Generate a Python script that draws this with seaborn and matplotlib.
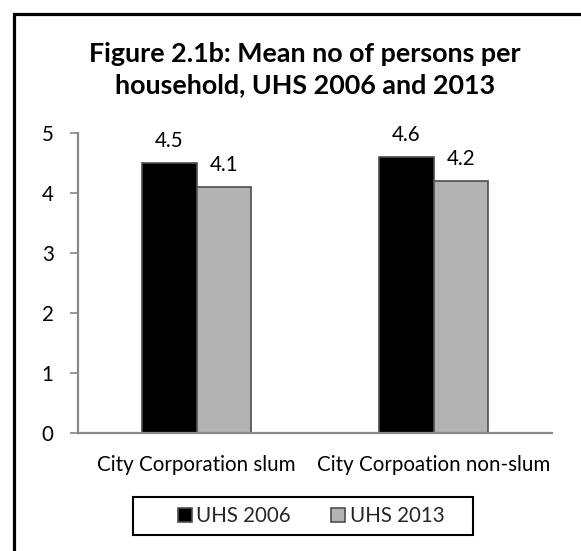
import matplotlib
matplotlib.use("Agg")
import matplotlib.pyplot as plt
import pandas as pd
import seaborn as sns

# data
categories = ["City Corporation slum", "City Corpoation non-slum"]
years = ["UHS 2006", "UHS 2013"]
uhs_2006 = [4.5, 4.6]
uhs_2013 = [4.1, 4.2]
y_ticks = [0, 1, 2, 3, 4, 5]

df = pd.DataFrame({
    "area": categories * 2,
    "survey": [years[0]] * 2 + [years[1]] * 2,
    "persons": uhs_2006 + uhs_2013,
})

W, H = 581, 551

sns.set_theme(style="white")
plt.rcParams["font.family"] = ["Lato", "DejaVu Sans"]

fig = plt.figure(figsize=(W / 100, H / 100), dpi=100)
ax = fig.add_axes([78 / W, 1 - 433 / H, 474 / W, 300 / H])

sns.barplot(
    data=df, x="area", y="persons", hue="survey",
    palette=["#000000", "#b3b3b3"], width=0.46, gap=0,
    edgecolor="#4d4d4d", linewidth=1.2, saturation=1, ax=ax,
)
ax.get_legend().remove()

ax.set_ylim(0, 5)
ax.set_xlim(-0.5, 1.5)
ax.set_yticks(y_ticks)
ax.set_xlabel("")
ax.set_ylabel("")
for side in ["top", "right"]:
    ax.spines[side].set_visible(False)
for side in ["left", "bottom"]:
    ax.spines[side].set_color("#898989")
    ax.spines[side].set_linewidth(1.6)

# size the body font so the category label is as wide as in the reference
fs = 14
ax.tick_params(axis="x", labelsize=fs)
fig.canvas.draw()
rend = fig.canvas.get_renderer()
w = ax.get_xticklabels()[0].get_window_extent(rend).width
fs = fs * 199 / w
fpx = fs * 100 / 72

ax.tick_params(axis="y", left=True, length=5.5, width=1.2, color="#898989",
               labelsize=fs, pad=12, labelcolor="#000000")
ax.tick_params(axis="x", bottom=False, length=0, labelsize=fs, pad=16,
               labelcolor="#000000")

for cont in ax.containers:
    ax.bar_label(cont, fmt="%.1f", padding=8.5, fontsize=fs, color="#000000")

# legend (frame drawn separately, like the Excel box)
handles, labels = ax.get_legend_handles_labels()
leg = fig.legend(
    handles, labels, loc="center left", bbox_to_anchor=(178 / W, 1 - 516 / H),
    ncol=2, frameon=False, fontsize=fs, handlelength=13.5 / fpx,
    handleheight=13.5 / fpx, handletextpad=5 / fpx, columnspacing=40 / fpx,
    borderpad=0, borderaxespad=0,
)
fig.patches.append(plt.Rectangle((133 / W, 1 - 535 / H), 340 / W, 38 / H,
                                 transform=fig.transFigure, fill=False,
                                 edgecolor="#000000", linewidth=1.5))

# title, two centred lines
title_lines = ["Figure 2.1b: Mean no of persons per", "household, UHS 2006 and 2013"]
t1 = fig.text(305 / W, 1 - 62 / H, title_lines[0], ha="center", va="baseline",
              fontsize=18, fontweight="bold", color="#000000")
fig.canvas.draw()
tfs = 18 * 434 / t1.get_window_extent(rend).width
t1.set_fontsize(tfs)
fig.text(305 / W, 1 - 93 / H, title_lines[1], ha="center", va="baseline",
         fontsize=tfs, fontweight="bold", color="#000000")

# chart area frame: only its left and top edges fall inside the picture
fig.patches.append(plt.Rectangle((13.5 / W, -0.1), 1.2, 1 - 13.5 / H + 0.1,
                                 transform=fig.transFigure, fill=False,
                                 edgecolor="#000000", linewidth=2.3))

fig.savefig("out.png", dpi=100)
